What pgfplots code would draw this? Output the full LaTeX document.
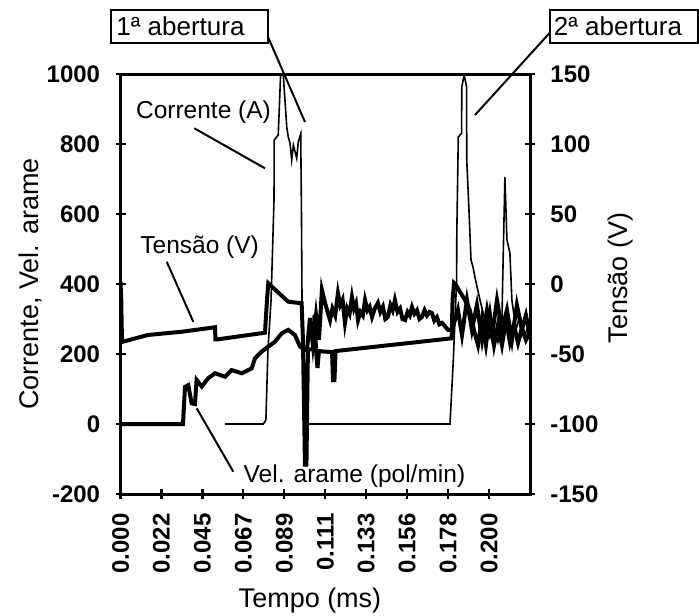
\documentclass[border=0pt]{standalone}
\usepackage{fontspec}
\setmainfont{Liberation Sans}
\usepackage{pgfplots}
\pgfplotsset{compat=1.18}
\begin{document}
\begin{tikzpicture}
\begin{scope}[x=0.5pt,y=-0.5pt]
\useasboundingbox (0,0) rectangle (699,615);
\end{scope}
\pgfplotsset{
  common/.style={
    at={(60.25pt,-247pt)}, anchor=south west, scale only axis,
    width=204.75pt, height=210pt,
    xmin=0, xmax=0.22222,
    tick align=center, major tick length=5pt,
    axis line style={line width=1.5pt},
    every tick/.style={black, line width=1.1pt},
    tick label style={font=\fontsize{12}{12}\selectfont\bfseries},
    clip=true,
  }
}
% Left axis: current and wire feed speed
\begin{axis}[common,
  ymin=-200, ymax=1000,
  ytick={-200,0,200,400,600,800,1000},
  yticklabels={-200,0,200,400,600,800,1000},
  ytick pos=left,
  yticklabel style={anchor=east, inner sep=0pt},
  yticklabel shift=7.5pt,
  xtick={0,0.022222,0.044444,0.066667,0.088889,0.111111,0.133333,0.155556,0.177778,0.2},
  xticklabels={0.000,0.022,0.045,0.067,0.089,0.111,0.133,0.156,0.178,0.200},
  xtick pos=bottom,
  xticklabel style={rotate=90, anchor=east, inner sep=0pt},
  xticklabel shift=7pt,
]
% Corrente (A)
\addplot[black, line width=0.8pt] coordinates {
(0.0567,0) (0.0775,0) (0.0789,11) (0.0800,211) (0.0817,354) (0.0833,640) (0.0834,811)
(0.0856,826) (0.0869,1000) (0.0883,1000) (0.0902,849) (0.0910,821) (0.0920,802)
(0.0929,754) (0.0938,797) (0.0956,759) (0.0965,807) (0.0978,829) (0.0982,600)
(0.0985,354) (0.0990,183) (0.1001,0) (0.1779,0) (0.1788,0) (0.1806,183) (0.1824,411)
(0.1825,546) (0.1833,820) (0.1851,831) (0.1852,963) (0.1865,997) (0.1878,963)
(0.1879,754) (0.1891,611) (0.1902,469) (0.1914,446) (0.1923,420) (0.1951,354)
(0.1978,297) (0.2005,246) (0.2027,269) (0.2048,234) (0.2070,297) (0.2074,411)
(0.2086,706) (0.2097,526) (0.2113,489) (0.2124,354) (0.2146,269) (0.2168,311)
(0.2195,254) (0.2222,297)
};
% Vel. arame (pol/min)
\addplot[black, line width=2pt] coordinates {
(0,0) (0.0339,0) (0.0350,106) (0.0368,111) (0.0386,59) (0.0404,57) (0.0413,126)
(0.0441,107) (0.0476,131) (0.0513,145) (0.0567,135) (0.0603,154) (0.0658,145)
(0.0712,159) (0.0730,188) (0.0766,207) (0.0802,221) (0.0838,235) (0.0875,259)
(0.0910,269) (0.0947,254) (0.0974,221) (0.1012,211) (0.1028,303) (0.1044,226)
(0.1061,311) (0.1077,240) (0.1093,383) (0.1110,346) (0.1124,320) (0.1137,297)
(0.1150,330) (0.1165,310) (0.1180,374) (0.1192,340) (0.1205,355) (0.1218,289)
(0.1230,330) (0.1243,315) (0.1256,363) (0.1267,330) (0.1278,345) (0.1289,297)
(0.1302,320) (0.1315,310) (0.1327,354) (0.1340,325) (0.1352,335) (0.1365,306)
(0.1380,330) (0.1397,346) (0.1410,320) (0.1424,335) (0.1437,300) (0.1451,306)
(0.1465,340) (0.1477,325) (0.1489,354) (0.1503,320) (0.1517,330) (0.1530,300)
(0.1544,297) (0.1558,320) (0.1570,310) (0.1582,334) (0.1595,315) (0.1609,325)
(0.1622,300) (0.1636,306) (0.1650,325) (0.1663,310) (0.1677,320) (0.1690,317)
(0.1703,295) (0.1717,305) (0.1730,285) (0.1744,289) (0.1760,280) (0.1777,269)
(0.1799,269) (0.1831,326) (0.1853,254) (0.1880,354) (0.1907,269) (0.1934,340)
(0.1962,240) (0.1989,326) (0.2016,254) (0.2043,354) (0.2070,269) (0.2097,326)
(0.2124,240) (0.2151,340) (0.2178,269) (0.2200,311) (0.2222,254)
};
\end{axis}
% Right axis: voltage
\begin{axis}[common,
  ymin=-150, ymax=150,
  ytick={-150,-100,-50,0,50,100,150},
  yticklabels={-150,-100,-50,0,50,100,150},
  ytick pos=right, yticklabel pos=right,
  yticklabel style={anchor=west, inner sep=0pt},
  yticklabel shift=7.5pt,
  xtick=\empty,
]
\addplot[black, line width=2pt] coordinates {
(0,1.4) (0.0004,-11.4) (0.0008,-41.4) (0.0149,-36.4) (0.0332,-34.1) (0.0513,-30.9)
(0.0515,-39.5) (0.0529,-39.5) (0.0784,-34.8) (0.0795,-11.4) (0.0802,0.5) (0.0811,-0.7)
(0.0910,-12.6) (0.0983,-13.8) (0.0990,-40) (0.1001,-129) (0.1009,-129) (0.1017,-47)
(0.1045,-46.4) (0.1053,-22) (0.1061,-47) (0.1069,-60) (0.1077,-47.9) (0.1110,-48.3)
(0.1148,-48.6) (0.1153,-68.6) (0.1161,-68.6) (0.1167,-47.9) (0.1797,-38.8)
(0.1802,-11.4) (0.1810,0.7) (0.1820,-0.7) (0.1869,-11.4) (0.1896,-18.6) (0.1918,-32.9)
(0.1940,-43.6) (0.1961,-25.7) (0.1983,-43.6) (0.2005,-22.1) (0.2027,-43.6)
(0.2048,-29.3) (0.2070,-43.6) (0.2092,-25.7) (0.2113,-41.4) (0.2135,-29.3)
(0.2157,-42.1) (0.2178,-31.4) (0.2200,-40) (0.2222,-34.3)
};
\end{axis}
\begin{scope}[x=0.5pt,y=-0.5pt]
\draw[line width=1pt] (110.7,10) rectangle (268.4,42.7);
\node[anchor=west, inner sep=0pt, font=\fontsize{13}{13}\selectfont] at (116,26.7) {1ª abertura};
\draw[line width=1pt] (549.7,10) rectangle (698,42.7);
\node[anchor=west, inner sep=0pt, font=\fontsize{13}{13}\selectfont] at (553.5,26.7) {2ª abertura};
\draw[line width=1pt] (268,37) -- (305,122);
\draw[line width=1pt] (550,32.5) -- (475,115);
\node[anchor=west, inner sep=0pt, font=\fontsize{12.25}{12.25}\selectfont] at (135.7,111.7) {Corrente (A)};
\draw[line width=1pt] (194.3,128.3) -- (265,168.3);
\node[anchor=west, inner sep=0pt, font=\fontsize{12.25}{12.25}\selectfont] at (140,247.5) {Tensão (V)};
\draw[line width=1pt] (166.7,261.7) -- (193.3,321.7);
\node[anchor=west, inner sep=0pt, font=\fontsize{12.25}{12.25}\selectfont] at (243.3,476) {Vel. arame (pol/min)};
\draw[line width=1pt] (196.7,408.3) -- (233.3,471.7);
\node[rotate=90, inner sep=0pt, font=\fontsize{13.5}{13.5}\selectfont] at (30,284) {Corrente, Vel. arame};
\node[rotate=90, inner sep=0pt, font=\fontsize{13.5}{13.5}\selectfont] at (620,278) {Tensão (V)};
\node[inner sep=0pt, font=\fontsize{13.5}{13.5}\selectfont] at (310,601) {Tempo (ms)};
\end{scope}
\end{tikzpicture}
\end{document}
